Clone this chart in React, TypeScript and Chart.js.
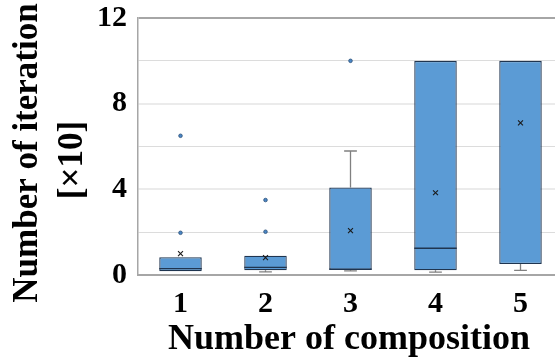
import React, { useEffect, useRef } from "react";
import { Chart, registerables } from "chart.js";

Chart.register(...registerables);

// Box-plot summary for each composition count (values in units of 10 iterations)
const categories = ["1", "2", "3", "4", "5"];
const whiskerLow = [0.18, 0.15, 0.19, 0.13, 0.22];
const q1 = [0.18, 0.22, 0.23, 0.22, 0.51];
const median = [0.3, 0.36, 0.27, 1.25, 10];
const q3 = [0.83, 0.9, 4.09, 10, 10];
const whiskerHigh = [0.83, 0.9, 5.79, 10, 10];
const means = [1.0, 0.81, 2.07, 3.84, 7.1];
const outlierCategory = [1, 1, 2, 2, 3];
const outlierValue = [1.97, 6.5, 2.02, 3.5, 10];
const yTickLabels = [0, 4, 8, 12];

const FONT = "Liberation Serif";
const BOX_FILL = "#5B9BD5";
const BOX_EDGE = "#1F3550";
const WHISKER = "#808080";

const boxPlotParts = {
  id: "boxPlotParts",
  beforeDatasetsDraw(chart: any) {
    const { ctx, scales } = chart;
    const x = scales.x;
    const y = scales.y;
    const capHalf = x.getPixelForValue(1.075) - x.getPixelForValue(1);
    ctx.save();
    ctx.strokeStyle = WHISKER;
    ctx.lineWidth = 1.3;
    categories.forEach((_, i) => {
      const cx = x.getPixelForValue(i + 1);
      const segs: [number, number][] = [
        [q3[i], whiskerHigh[i]],
        [q1[i], whiskerLow[i]],
      ];
      segs.forEach(([from, to]) => {
        if (Math.abs(to - from) < 1e-9) return;
        const y0 = y.getPixelForValue(from);
        const y1 = y.getPixelForValue(to);
        ctx.beginPath();
        ctx.moveTo(cx, y0);
        ctx.lineTo(cx, y1);
        ctx.moveTo(cx - capHalf, y1);
        ctx.lineTo(cx + capHalf, y1);
        ctx.stroke();
      });
    });
    ctx.restore();
  },
  afterDatasetDraw(chart: any, args: any) {
    if (args.index !== 0) return;
    const { ctx, scales } = chart;
    const x = scales.x;
    const y = scales.y;
    const half = x.getPixelForValue(1.25) - x.getPixelForValue(1);
    ctx.save();
    ctx.strokeStyle = BOX_EDGE;
    ctx.lineWidth = 1.3;
    categories.forEach((_, i) => {
      // a median sitting on the box's upper edge is already drawn by the border
      if (Math.abs(median[i] - q3[i]) < 1e-9) return;
      const cx = x.getPixelForValue(i + 1);
      const my = y.getPixelForValue(median[i]);
      ctx.beginPath();
      ctx.moveTo(cx - half, my);
      ctx.lineTo(cx + half, my);
      ctx.stroke();
    });
    ctx.restore();
  },
  afterDraw(chart: any) {
    const { ctx } = chart;
    ctx.save();
    ctx.fillStyle = "#000";
    ctx.textAlign = "center";
    ctx.textBaseline = "middle";
    ctx.font = `bold 35px ${FONT}`;
    ctx.save();
    ctx.translate(28, 153);
    ctx.rotate(-Math.PI / 2);
    ctx.fillText("Number of iteration", 0, 0);
    ctx.restore();
    ctx.save();
    ctx.translate(73, 160);
    ctx.rotate(-Math.PI / 2);
    ctx.fillText("[\u00D710]", 0, 0);
    ctx.restore();
    ctx.textBaseline = "alphabetic";
    ctx.font = `bold 36px ${FONT}`;
    ctx.fillText("Number of composition", 349, 349);
    ctx.restore();
  },
};

function buildChart(canvas: HTMLCanvasElement) {
  return new Chart(canvas, {
    type: "bar",
    data: {
      datasets: [
        {
          type: "bar",
          data: categories.map((_, i) => ({ x: i + 1, y: [q1[i], q3[i]] })) as any,
          backgroundColor: BOX_FILL,
          borderColor: BOX_EDGE,
          borderWidth: 1.3,
          borderSkipped: false,
          barPercentage: 0.5,
          categoryPercentage: 1,
          order: 3,
        } as any,
        {
          type: "scatter",
          data: outlierValue.map((v, i) => ({ x: outlierCategory[i], y: v })),
          pointRadius: 1.8,
          pointBackgroundColor: "#4A86C5",
          pointBorderColor: "#2A4F78",
          pointBorderWidth: 0.8,
          order: 2,
        } as any,
        {
          type: "scatter",
          data: means.map((v, i) => ({ x: i + 1, y: v })),
          pointStyle: "crossRot",
          pointRadius: 3.5,
          pointBorderColor: "#1A1A1A",
          pointBorderWidth: 1.1,
          order: 1,
        } as any,
      ],
    },
    options: {
      animation: false,
      responsive: false,
      events: [],
      font: { family: FONT },
      layout: { autoPadding: false, padding: { top: 18, right: 0, left: 0, bottom: 0 } },
      plugins: { legend: { display: false }, tooltip: { enabled: false } },
      scales: {
        x: {
          type: "linear",
          offset: false,
          min: 0.5,
          max: 0.5 + 417 / 85,
          afterFit(scale: any) {
            scale.height = 85;
            scale.paddingLeft = 0;
            scale.paddingRight = 0;
          },
          afterBuildTicks(scale: any) {
            scale.ticks = categories.map((_, i) => ({ value: i + 1 }));
          },
          grid: { display: false, drawTicks: false, offset: false },
          border: { display: true, color: "#A6A6A6", width: 2 },
          ticks: {
            padding: 11,
            color: "#000",
            font: { family: FONT, size: 30, weight: "bold" },
            callback: (v: any) => categories[Number(v) - 1] ?? "",
          },
        },
        y: {
          type: "linear",
          min: 0,
          max: 12,
          afterFit(scale: any) {
            scale.width = 138;
            scale.paddingTop = 0;
            scale.paddingBottom = 0;
          },
          grid: {
            drawTicks: false,
            color: (c: any) => {
              const v = c.tick ? c.tick.value : -1;
              if (v === 12) return "#A6A6A6";
              if (v === 4 || v === 8) return "#EBEBEB";
              return "#DCDCDC";
            },
            lineWidth: (c: any) => {
              const v = c.tick ? c.tick.value : -1;
              return v === 12 || v === 4 || v === 8 ? 2 : 1;
            },
          },
          border: { display: true, color: "#A6A6A6", width: 1.5 },
          ticks: {
            stepSize: 2,
            padding: 11,
            color: "#000",
            font: { family: FONT, size: 30, weight: "bold", lineHeight: 1 },
            callback: (v: any) => (yTickLabels.includes(Number(v)) ? String(v) : ""),
          },
        },
      },
    },
    plugins: [boxPlotParts],
  });
}

export default function App() {
  const canvasRef = useRef<HTMLCanvasElement | null>(null);

  useEffect(() => {
    const canvas = canvasRef.current;
    if (!canvas) return;
    let chart: Chart | null = null;
    let cancelled = false;
    const start = () => {
      if (cancelled) return;
      chart = buildChart(canvas);
    };
    const fonts = (document as any).fonts;
    if (fonts && fonts.load) {
      fonts.load(`bold 30px "${FONT}"`).then(start, start);
    } else {
      start();
    }
    return () => {
      cancelled = true;
      if (chart) chart.destroy();
    };
  }, []);

  return (
    <div style={{ position: "absolute", left: 0, top: 0, width: 555, height: 360, background: "#fff" }}>
      <canvas ref={canvasRef} width={555} height={360} />
    </div>
  );
}
